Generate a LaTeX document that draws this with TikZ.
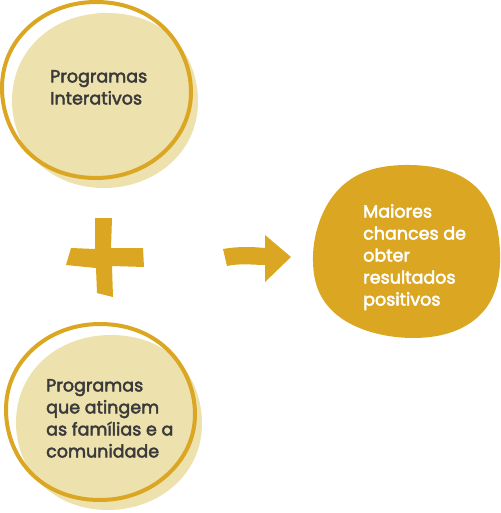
\documentclass[tikz,border=0pt]{standalone}
\usepackage{fontspec}
\setmainfont{Poppins}
\newfontfamily\blobfont{Poppins}[FakeBold=2.6]
\definecolor{gold}{HTML}{DBA723}
\definecolor{sand}{HTML}{EDE1AE}
\definecolor{ink}{HTML}{3A3A3A}
\begin{document}
\begin{tikzpicture}[x=1pt,y=-1pt,
  blobtext/.style={align=left, inner sep=0pt, anchor=north west,
    font=\fontsize{17.5}{22}\blobfont},
  ring/.style={draw=gold, line width=4pt}]
   \newcommand{\topBlob}{
        plot[smooth cycle, tension=0.68] coordinates {(198,102) (172,37) (106,13) (39,38) (12,100) (38,163) (104,188) (171,163)}
    }
    \newcommand{\topRing}{
        plot[smooth cycle, tension=0.68] coordinates {(191,92) (163,27) (96,2) (29,27) (2,88) (29,153) (96,178) (163,153)}
    }
  \useasboundingbox (0,0) rectangle (500,513);

  % upper circle
  \fill[sand] \topBlob;
  \draw[ring] \topRing;
  \node[blobtext, text=ink] (interativos) at (50,70) {Programas\\Interativos};

  % lower circle
  \fill[sand, yshift=-322pt, xshift=4pt] \topBlob;
  \draw[ring, yshift=-322pt, xshift=4pt] \topRing;
  \node[blobtext, text=ink] (comunidade) at (46,379) {Programas\\que atingem\\as famílias e a\\comunidade};

  % plus
  \fill[gold] (95,218) -- (112,218) -- (111,248) -- (143,248) -- (144,267) -- (112,266)
    -- (113,297) -- (97,293) -- (96,268) -- (66,265) -- (71,248) -- (95,249) -- cycle;

  % arrow
  \fill[gold] (223,249) .. controls (240,246) and (255,247) .. (265,248) -- (265,235)
    -- (291,257) -- (265,282) -- (265,265) .. controls (255,265) and (240,263) .. (227,266) -- cycle;

  % result
  \fill[gold] plot[smooth cycle, tension=0.68] coordinates {(500,252) (475,186) (405,165) (340,188) (313,256) (337,315) (413,338) (480,315)};
  \node[blobtext, text=white] (resultados) at (363,204) {Maiores\\chances de\\obter\\resultados\\positivos};
\end{tikzpicture}
\end{document}
